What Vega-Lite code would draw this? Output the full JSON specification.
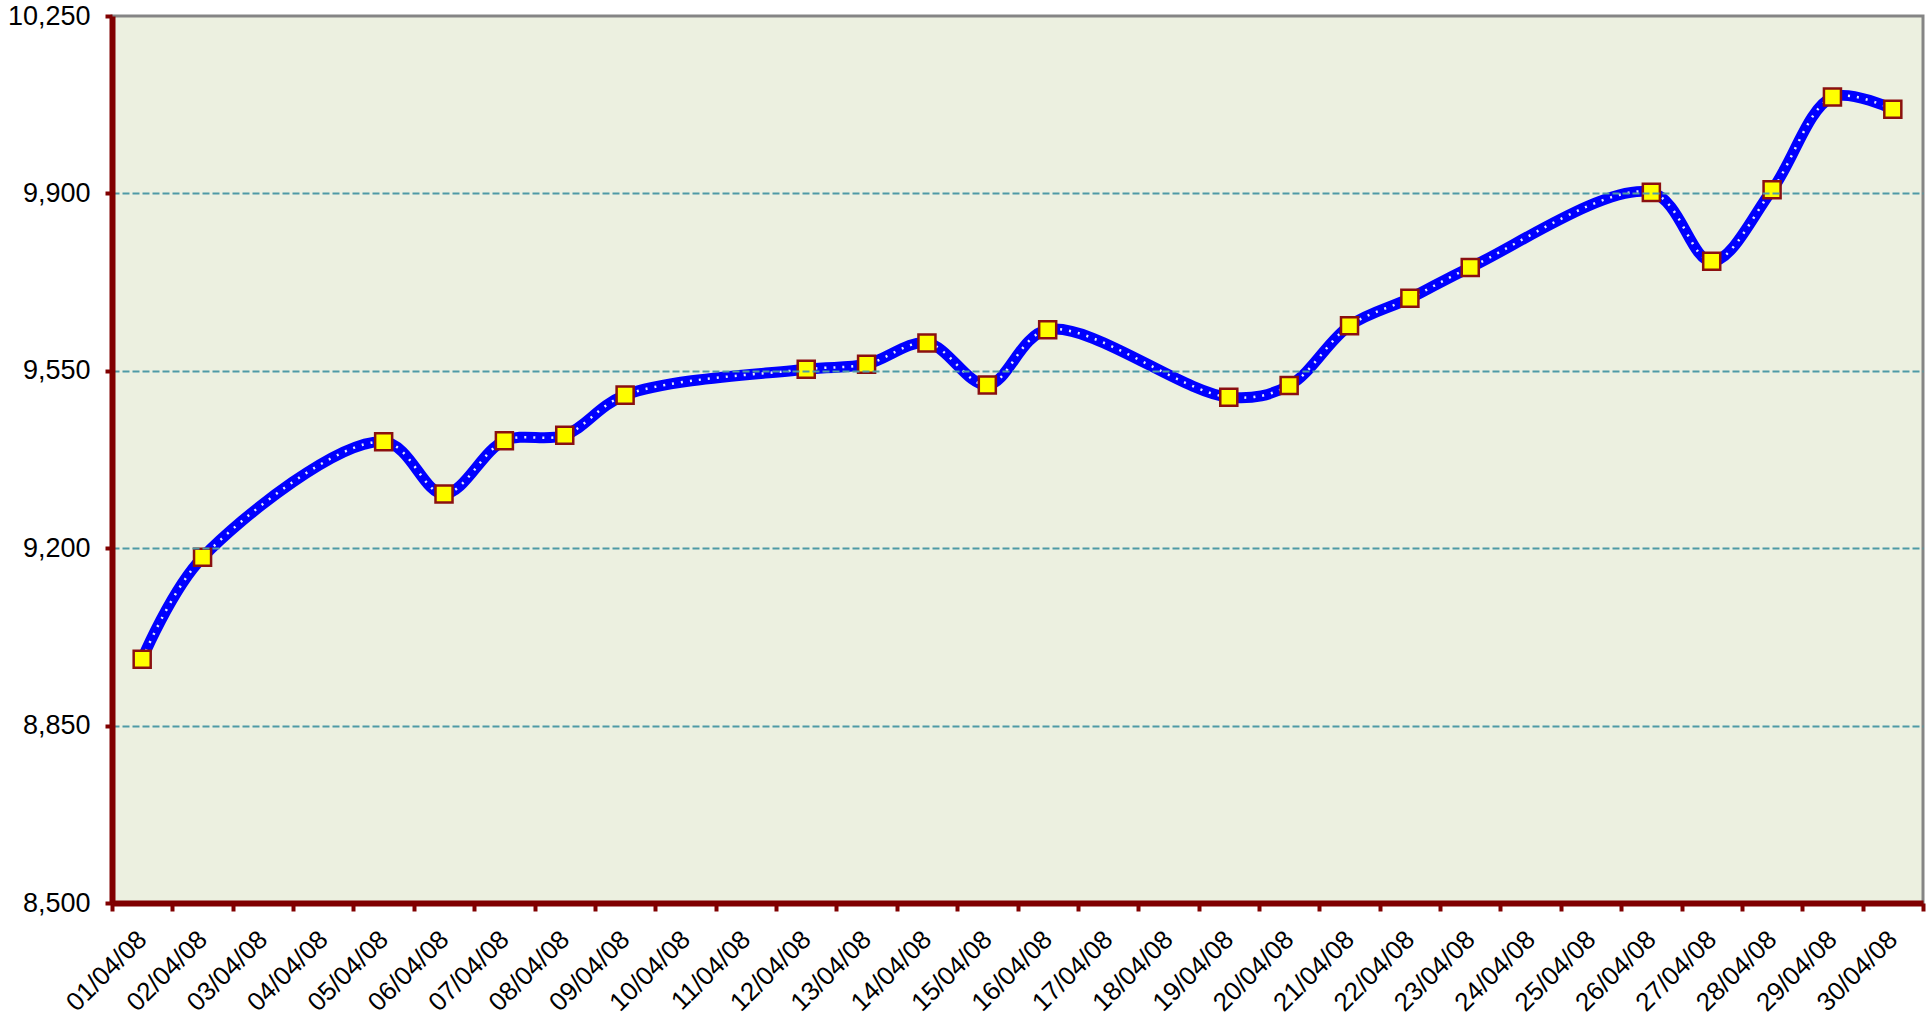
{
  "$schema": "https://vega.github.io/schema/vega-lite/v6.json",
  "width": 1811,
  "height": 887,
  "autosize": {"type": "none"},
  "padding": {"left": 112, "top": 16, "right": 7, "bottom": 117},
  "background": "#FFFFFF",
  "config": {
    "view": {"fill": "#ECF0E0", "stroke": "#858585", "strokeWidth": 3},
    "font": "Liberation Sans"
  },
  "data": {
    "values": [
      {"d": "01/04/08", "v": 8981},
      {"d": "02/04/08", "v": 9182},
      {"d": "05/04/08", "v": 9410},
      {"d": "06/04/08", "v": 9307},
      {"d": "07/04/08", "v": 9412},
      {"d": "08/04/08", "v": 9423},
      {"d": "09/04/08", "v": 9502},
      {"d": "12/04/08", "v": 9553},
      {"d": "13/04/08", "v": 9563},
      {"d": "14/04/08", "v": 9605},
      {"d": "15/04/08", "v": 9522},
      {"d": "16/04/08", "v": 9631},
      {"d": "19/04/08", "v": 9498},
      {"d": "20/04/08", "v": 9521},
      {"d": "21/04/08", "v": 9639},
      {"d": "22/04/08", "v": 9693},
      {"d": "23/04/08", "v": 9754},
      {"d": "26/04/08", "v": 9902},
      {"d": "27/04/08", "v": 9766},
      {"d": "28/04/08", "v": 9907},
      {"d": "29/04/08", "v": 10090},
      {"d": "30/04/08", "v": 10066}
    ]
  },
  "encoding": {
    "x": {
      "field": "d",
      "type": "ordinal",
      "sort": null,
      "scale": {
        "type": "band",
        "paddingInner": 0,
        "paddingOuter": 0,
        "domain": ["01/04/08","02/04/08","03/04/08","04/04/08","05/04/08","06/04/08","07/04/08","08/04/08","09/04/08","10/04/08","11/04/08","12/04/08","13/04/08","14/04/08","15/04/08","16/04/08","17/04/08","18/04/08","19/04/08","20/04/08","21/04/08","22/04/08","23/04/08","24/04/08","25/04/08","26/04/08","27/04/08","28/04/08","29/04/08","30/04/08"]
      },
      "axis": {
        "title": null,
        "labelAngle": -45,
        "labelAlign": "right",
        "labelBaseline": "middle",
        "labelFontSize": 26,
        "labelColor": "#000000",
        "labelPadding": 24,
        "labelOverlap": false,
        "tickBand": "extent",
        "tickSize": 8,
        "tickWidth": 4,
        "tickColor": "#800000",
        "domainColor": "#800000",
        "domainWidth": 6,
        "grid": false,
        "zindex": 2
      }
    },
    "y": {
      "field": "v",
      "type": "quantitative",
      "scale": {"domain": [8500, 10250], "nice": false, "zero": false},
      "axis": {
        "title": null,
        "values": [8500, 8850, 9200, 9550, 9900, 10250],
        "format": ",d",
        "labelFontSize": 27,
        "labelColor": "#000000",
        "labelPadding": 15,
        "tickSize": 7,
        "tickWidth": 4,
        "tickColor": "#800000",
        "domainColor": "#800000",
        "domainWidth": 6,
        "grid": true,
        "gridColor": "#4E9AA6",
        "gridWidth": 2,
        "gridDash": [7, 3],
        "gridOpacity": {"condition": {"test": "datum.value == 10250 || datum.value == 8500", "value": 0}, "value": 1},
        "zindex": 2
      }
    }
  },
  "layer": [
    {
      "mark": {"type": "line", "interpolate": "catmull-rom", "color": "#0000FF", "strokeWidth": 11}
    },
    {
      "mark": {"type": "line", "interpolate": "catmull-rom", "color": "#E8ECFF", "strokeWidth": 2.5, "strokeDash": [2, 7]}
    },
    {
      "mark": {"type": "point", "shape": "square", "size": 290, "filled": true, "fill": "#FFFF00", "stroke": "#8B1010", "strokeWidth": 2.5, "opacity": 1}
    }
  ]
}
